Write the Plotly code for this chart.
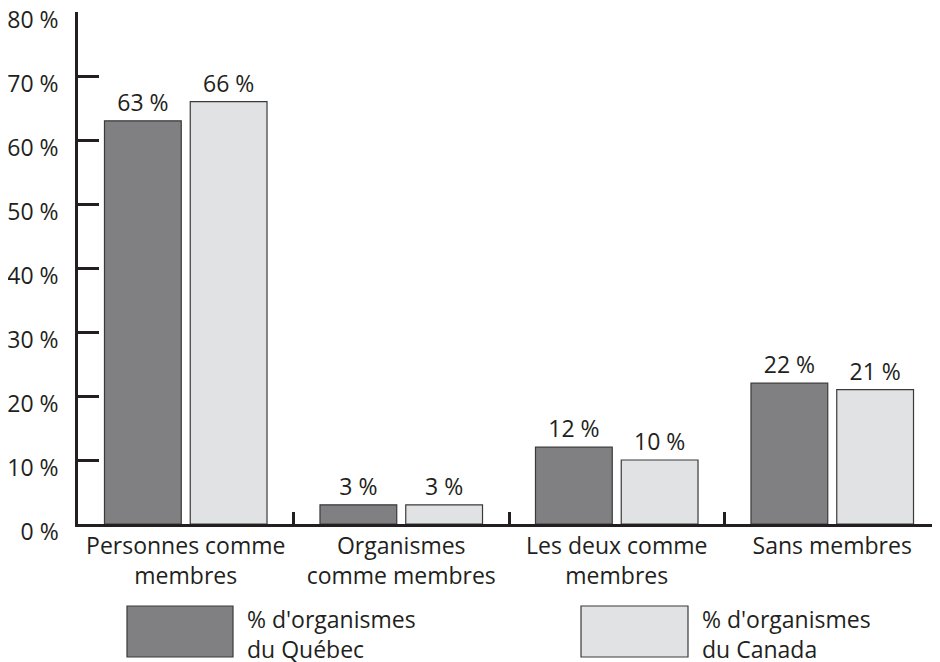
import plotly.graph_objects as go

categories = ["Personnes comme<br>membres", "Organismes<br>comme membres",
              "Les deux comme<br>membres", "Sans membres"]
quebec = [63, 3, 12, 22]
canada = [66, 3, 10, 21]
series_names = ["% d'organismes<br>du Québec", "% d'organismes<br>du Canada"]
y_ticks = [0, 10, 20, 30, 40, 50, 60, 70, 80]
y_tick_labels = [f"{v} %" for v in y_ticks]

INK = "#231f20"
DARK = "#808083"
LIGHT = "#e1e2e3"
FONT = "Open Sans"

# page offset of the plot div (default body margin)
OFF = 8
L, T, B = 78 - OFF, 12 - OFF, 138
W, H = 940 - OFF, 662 - OFF
PW, PH = W - L, H - T - B  # plot area size


def px_x(page_x):
    return (page_x - OFF - L) / PW


def px_y(page_y):
    return (H - B - (page_y - OFF)) / PH


fig = go.Figure()
for name, vals, col in [(series_names[0], quebec, DARK), (series_names[1], canada, LIGHT)]:
    fig.add_trace(go.Bar(
        x=categories, y=vals, name=name,
        marker=dict(color=col, line=dict(color="#3a3a3a", width=1.2)),
        text=[f"{v} %" for v in vals], textposition="outside",
        textfont=dict(size=23, color=INK, family=FONT),
        cliponaxis=False,
    ))

fig.update_layout(
    width=W, height=H,
    margin=dict(l=L, r=0, t=T, b=B, autoexpand=False),
    paper_bgcolor="white", plot_bgcolor="white",
    barmode="group", bargap=0.204, bargroupgap=0.105,
    showlegend=False,
    font=dict(family=FONT, color=INK, size=23),
)
fig.update_yaxes(
    range=[0, 80], tickvals=y_ticks, ticktext=y_tick_labels,
    showgrid=False, zeroline=False, automargin=False,
    showline=True, linecolor=INK, linewidth=2.5,
    ticks="inside", ticklen=21, tickwidth=2.5, tickcolor=INK,
    tickfont=dict(size=23, color=INK, family=FONT),
    ticklabelshift=8, ticklabelstandoff=12, ticklabeloverflow="allow",
)
fig.update_xaxes(
    showgrid=False, zeroline=False, automargin=False,
    showline=True, linecolor=INK, linewidth=2.5,
    ticks="inside", tickson="boundaries", ticklen=12, tickwidth=2.5, tickcolor=INK,
    tickfont=dict(size=23, color=INK, family=FONT), ticklabeloverflow="allow",
)

# Legend drawn manually (large swatches)
legend_items = [(DARK, series_names[0], 127, 233), (LIGHT, series_names[1], 581, 688)]
for col, label, x0, x1 in legend_items:
    fig.add_shape(type="rect", xref="paper", yref="paper",
                  x0=px_x(x0), x1=px_x(x1), y0=px_y(657), y1=px_y(606),
                  fillcolor=col, line=dict(color="#3a3a3a", width=1.2))
    fig.add_annotation(xref="paper", yref="paper",
                       x=px_x(x1 + 12), y=px_y(634),
                       xanchor="left", yanchor="middle", align="left",
                       text=label, showarrow=False,
                       font=dict(size=23, color=INK, family=FONT))

fig.write_html("out.html")
